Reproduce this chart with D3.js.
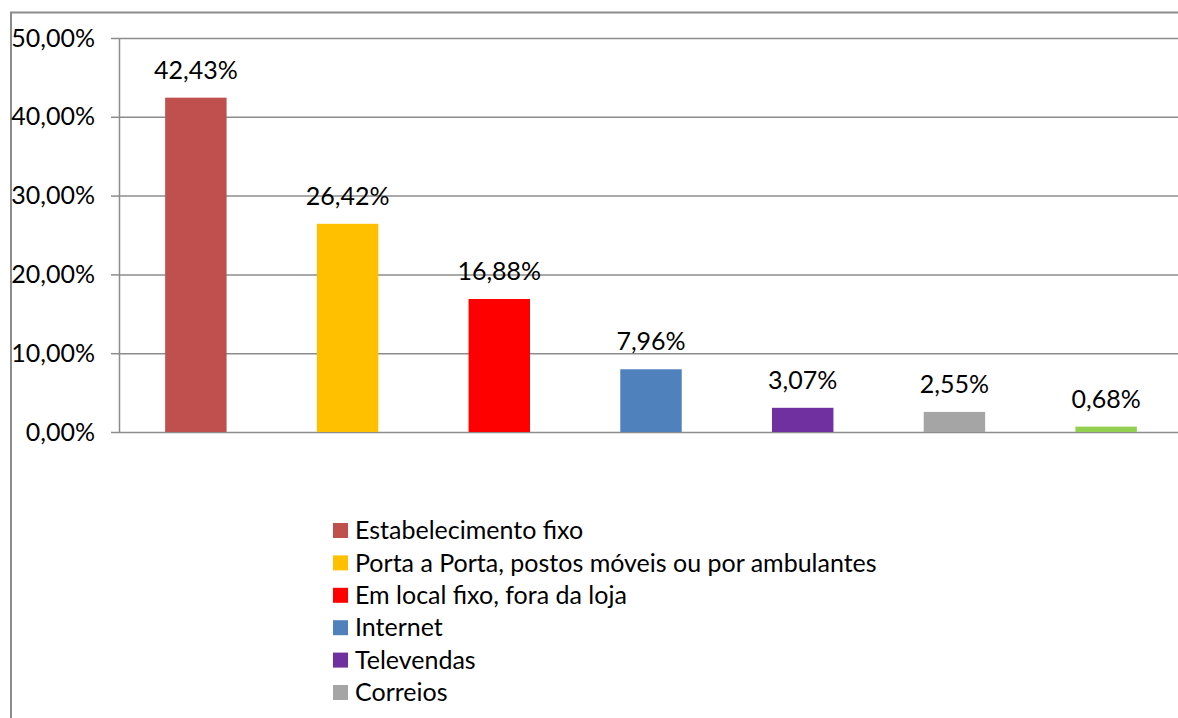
<!DOCTYPE html>
<html>
<head>
<meta charset="utf-8">
<script src="https://cdn.jsdelivr.net/npm/d3@7"></script>
<style>
  body { margin: 0; background: #fff; }
  text { font-family: Lato, "Open Sans", sans-serif; fill: #000; }
  .grid line { stroke: #8c8c8c; stroke-width: 1.5; }
  .grid .domain { display: none; }
  .yaxis line, .yaxis .domain { stroke: #8c8c8c; stroke-width: 1.5; }
</style>
</head>
<body>
<div class="render"></div>
<script>
"use strict";

var categories = ["Estabelecimento fixo", "Porta a Porta, postos móveis ou por ambulantes",
   "Em local fixo, fora da loja", "Internet", "Televendas", "Correios", "Outros"];
var values = [42.43, 26.42, 16.88, 7.96, 3.07, 2.55, 0.68];
var colors = ["#c0504d", "#ffc000", "#ff0000", "#4f81bd", "#7030a0", "#a5a5a5", "#92d050"];
var yTicks = [0, 10, 20, 30, 40, 50];

var width = 1178;
var height = 718;
var fontSize = 25;

var ptBR = d3.formatLocale({ decimal: ",", thousands: ".", grouping: [3], currency: ["R$", ""] });
var fmt = function (v) { return ptBR.format(".2f")(v) + "%"; };

var svg = d3.select('.render').append('svg').attr('width', width).attr('height', height);

// outer chart border (only top and left are visible in the crop)
svg.append('path').attr('d', 'M11,' + height + 'V12.5H' + width)
   .attr('fill', 'none').attr('stroke', '#8c8c8c').attr('stroke-width', 2);

var y = d3.scaleLinear().domain([0, 50]).range([432, 38]);
var x = d3.scaleBand().domain(categories).range([120, 1182]).paddingInner(0.595).paddingOuter(0.2975);

svg.append('g').attr('class', 'grid').attr('transform', 'translate(119,0)')
   .call(d3.axisRight(y).tickValues(yTicks).tickSize(width).tickFormat(''));

var yAxis = svg.append('g').attr('class', 'yaxis').attr('transform', 'translate(119,0)')
   .call(d3.axisLeft(y).tickValues(yTicks).tickSize(8).tickSizeOuter(0).tickPadding(16).tickFormat(fmt));
yAxis.selectAll('text').style('font-size', fontSize + 'px').attr('fill', '#000');

svg.selectAll('.bar').data(values).enter().append('rect').attr('class', 'bar')
   .attr('x', function (d, i) { return x(categories[i]); })
   .attr('y', function (d) { return y(d); })
   .attr('width', x.bandwidth())
   .attr('height', function (d) { return y(0) - y(d); })
   .attr('fill', function (d, i) { return colors[i]; });

svg.selectAll('.label').data(values).enter().append('text').attr('class', 'label')
   .attr('x', function (d, i) { return x(categories[i]) + x.bandwidth() / 2; })
   .attr('y', function (d) { return y(d) - 19; })
   .attr('text-anchor', 'middle')
   .style('font-size', fontSize + 'px')
   .text(fmt);

// legend: only the first six rows fit inside the visible area
var legend = svg.selectAll('.legend').data(categories.slice(0, 6)).enter().append('g')
   .attr('class', 'legend')
   .attr('transform', function (d, i) { return 'translate(333,' + (523 + i * 32.4) + ')'; });
legend.append('rect').attr('width', 15).attr('height', 15)
   .attr('fill', function (d, i) { return colors[i]; });
legend.append('text').attr('x', 22).attr('y', 7.5).attr('dy', '0.35em')
   .style('font-size', fontSize + 'px')
   .text(function (d) { return d; });
</script>
</body>
</html>
